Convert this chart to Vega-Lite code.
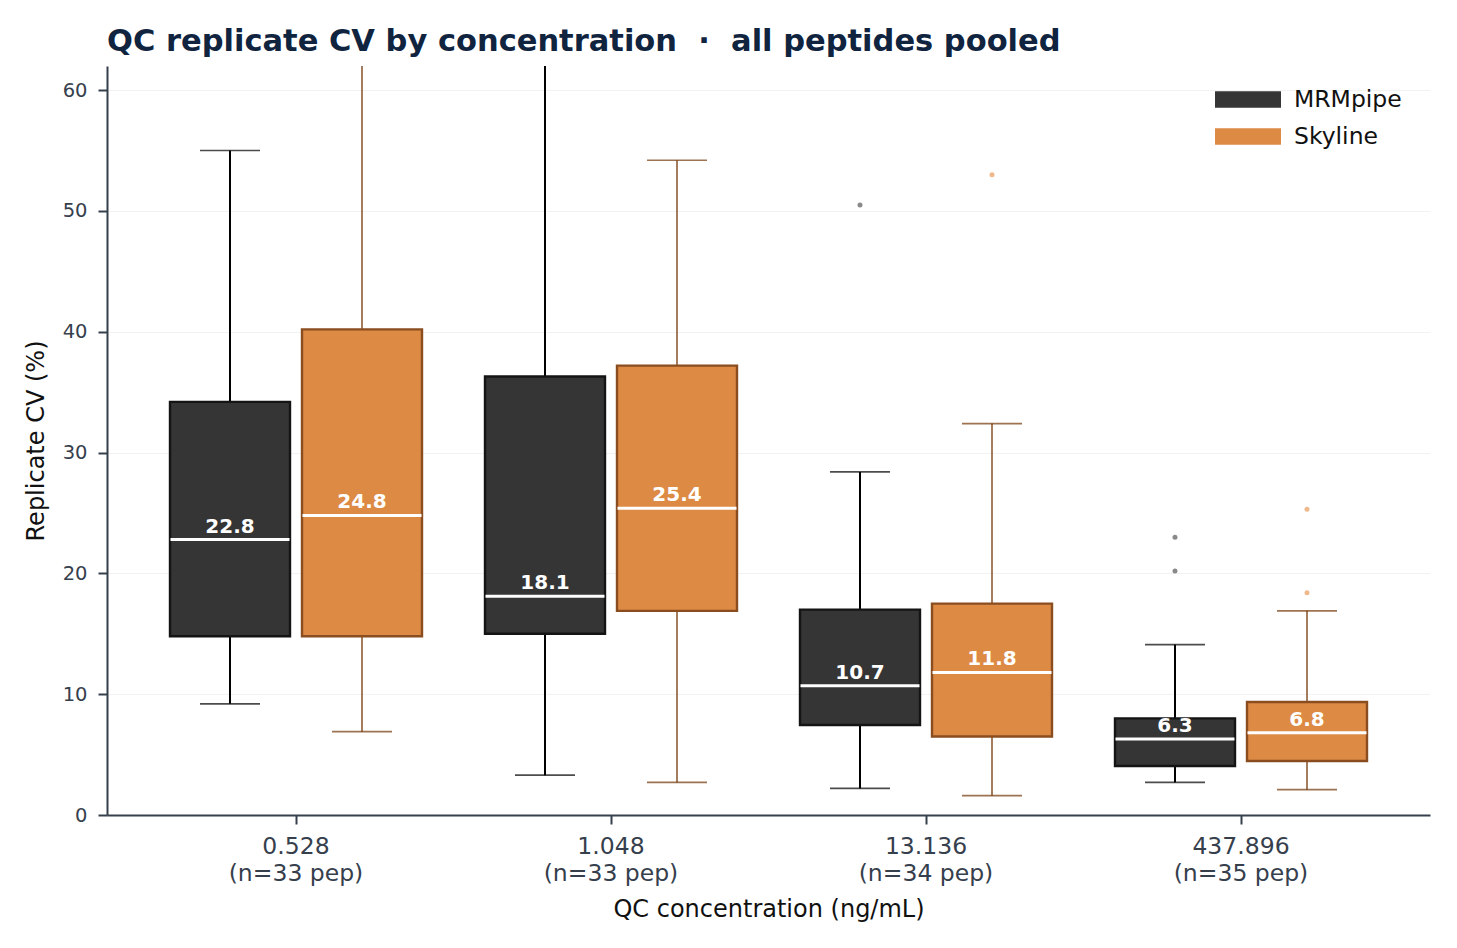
{
  "$schema": "https://vega.github.io/schema/vega-lite/v6.json",
  "width": 1323,
  "height": 749,
  "autosize": {"type": "none"},
  "padding": {"left": 107, "top": 66, "right": 27, "bottom": 133},
  "background": "white",
  "title": {
    "text": "QC replicate CV by concentration \u00a0·\u00a0 all peptides pooled",
    "anchor": "start",
    "frame": "group",
    "font": "DejaVu Sans",
    "fontSize": 30.5,
    "fontWeight": "bold",
    "color": "#10243f",
    "baseline": "alphabetic",
    "offset": 15,
    "dy": 30
  },
  "config": {
    "view": {"stroke": null},
    "font": "DejaVu Sans",
    "axis": {
      "domainColor": "#36404d",
      "domainWidth": 2,
      "tickColor": "#36404d",
      "tickWidth": 2,
      "tickSize": 9,
      "labelColor": "#36404d",
      "titleColor": "#111111",
      "titleFontWeight": "normal",
      "titleFontSize": 24,
      "labelFont": "DejaVu Sans",
      "titleFont": "DejaVu Sans"
    }
  },
  "datasets": {
    "boxes": [
      {"conc": "0.528|(n=33 pep)", "method": "MRMpipe", "lo": 9.2, "q1": 14.8, "med": 22.8, "q3": 34.2, "hi": 55.0},
      {"conc": "0.528|(n=33 pep)", "method": "Skyline", "lo": 6.9, "q1": 14.8, "med": 24.8, "q3": 40.2, "hi": 70.0},
      {"conc": "1.048|(n=33 pep)", "method": "MRMpipe", "lo": 3.3, "q1": 15.0, "med": 18.1, "q3": 36.3, "hi": 68.0},
      {"conc": "1.048|(n=33 pep)", "method": "Skyline", "lo": 2.7, "q1": 16.9, "med": 25.4, "q3": 37.2, "hi": 54.2},
      {"conc": "13.136|(n=34 pep)", "method": "MRMpipe", "lo": 2.2, "q1": 7.45, "med": 10.7, "q3": 17.0, "hi": 28.4},
      {"conc": "13.136|(n=34 pep)", "method": "Skyline", "lo": 1.6, "q1": 6.5, "med": 11.8, "q3": 17.5, "hi": 32.4},
      {"conc": "437.896|(n=35 pep)", "method": "MRMpipe", "lo": 2.7, "q1": 4.06, "med": 6.3, "q3": 8.0, "hi": 14.1},
      {"conc": "437.896|(n=35 pep)", "method": "Skyline", "lo": 2.1, "q1": 4.47, "med": 6.8, "q3": 9.35, "hi": 16.9}
    ],
    "outliers": [
      {"conc": "13.136|(n=34 pep)", "method": "MRMpipe", "cv": 50.5},
      {"conc": "13.136|(n=34 pep)", "method": "Skyline", "cv": 53.0},
      {"conc": "437.896|(n=35 pep)", "method": "MRMpipe", "cv": 23.0},
      {"conc": "437.896|(n=35 pep)", "method": "MRMpipe", "cv": 20.2},
      {"conc": "437.896|(n=35 pep)", "method": "Skyline", "cv": 25.3},
      {"conc": "437.896|(n=35 pep)", "method": "Skyline", "cv": 18.4}
    ]
  },
  "encoding": {
    "x": {
      "field": "conc",
      "type": "nominal",
      "title": "QC concentration (ng/mL)",
      "scale": {
        "domain": ["0.528|(n=33 pep)", "1.048|(n=33 pep)", "13.136|(n=34 pep)", "437.896|(n=35 pep)"],
        "paddingInner": 0,
        "paddingOuter": 0.1
      },
      "axis": {
        "labelAngle": 0,
        "labelExpr": "split(datum.value, '|')",
        "labelFontSize": 23.5,
        "labelLineHeight": 27,
        "labelPadding": 10,
        "titlePadding": 13
      }
    },
    "xOffset": {
      "field": "method",
      "type": "nominal",
      "scale": {"domain": ["MRMpipe", "Skyline"], "paddingInner": 0.0909, "paddingOuter": 0.2386}
    }
  },
  "layer": [
    {
      "data": {"name": "boxes"},
      "mark": {"type": "rule", "clip": true},
      "encoding": {
        "y": {
          "field": "lo",
          "type": "quantitative",
          "scale": {"domain": [0, 62], "nice": false},
          "title": "Replicate CV (%)",
          "axis": {
            "values": [0, 10, 20, 30, 40, 50, 60],
            "labelFontSize": 19.5,
            "labelPadding": 11,
            "grid": true,
            "gridColor": "#f2f2f2",
            "gridWidth": 1,
            "titlePadding": 14
          }
        },
        "y2": {"field": "hi"},
        "stroke": {"condition": {"test": "datum.method === 'MRMpipe'", "value": "#000000"}, "value": "#733707"},
        "strokeWidth": {"condition": {"test": "datum.method === 'MRMpipe'", "value": 2}, "value": 1.3}
      }
    },
    {
      "data": {"name": "boxes"},
      "mark": {"type": "tick", "size": 60, "thickness": 1.6, "clip": true},
      "encoding": {
        "y": {"field": "lo", "type": "quantitative"},
        "color": {"condition": {"test": "datum.method === 'MRMpipe'", "value": "#000000"}, "value": "#733707"}
      }
    },
    {
      "data": {"name": "boxes"},
      "mark": {"type": "tick", "size": 60, "thickness": 1.6, "clip": true},
      "encoding": {
        "y": {"field": "hi", "type": "quantitative"},
        "color": {"condition": {"test": "datum.method === 'MRMpipe'", "value": "#000000"}, "value": "#733707"}
      }
    },
    {
      "data": {"name": "boxes"},
      "mark": {"type": "bar", "strokeWidth": 2.4, "opacity": 1},
      "encoding": {
        "y": {"field": "q1", "type": "quantitative"},
        "y2": {"field": "q3"},
        "color": {
          "field": "method",
          "type": "nominal",
          "scale": {"domain": ["MRMpipe", "Skyline"], "range": ["#353535", "#dd8a45"]},
          "legend": {
            "title": null,
            "orient": "none",
            "legendX": 1124.5,
            "legendY": 17,
            "padding": 0,
            "symbolType": "M-2,-0.5H2V0.5H-2Z",
            "symbolSize": 1089,
            "symbolStrokeWidth": 0,
            "symbolOpacity": 1,
            "labelFontSize": 23.5,
            "labelColor": "#111111",
            "labelOffset": 29.5,
            "rowPadding": 9
          }
        },
        "stroke": {"condition": {"test": "datum.method === 'MRMpipe'", "value": "#141414"}, "value": "#8a4d20"}
      }
    },
    {
      "data": {"name": "boxes"},
      "mark": {"type": "tick", "size": 119, "thickness": 3, "color": "#ffffff", "opacity": 1},
      "encoding": {
        "y": {"field": "med", "type": "quantitative"}
      }
    },
    {
      "data": {"name": "boxes"},
      "mark": {"type": "text", "color": "#ffffff", "fontSize": 20, "fontWeight": "bold", "baseline": "alphabetic", "dy": -7},
      "encoding": {
        "y": {"field": "med", "type": "quantitative"},
        "text": {"field": "med", "type": "quantitative", "format": ".1f"}
      }
    },
    {
      "data": {"name": "outliers"},
      "mark": {"type": "point", "filled": true, "size": 25, "opacity": 1},
      "encoding": {
        "y": {"field": "cv", "type": "quantitative"},
        "color": {"condition": {"test": "datum.method === 'MRMpipe'", "value": "#8a8a8a"}, "value": "#f0b98c"}
      }
    }
  ]
}
